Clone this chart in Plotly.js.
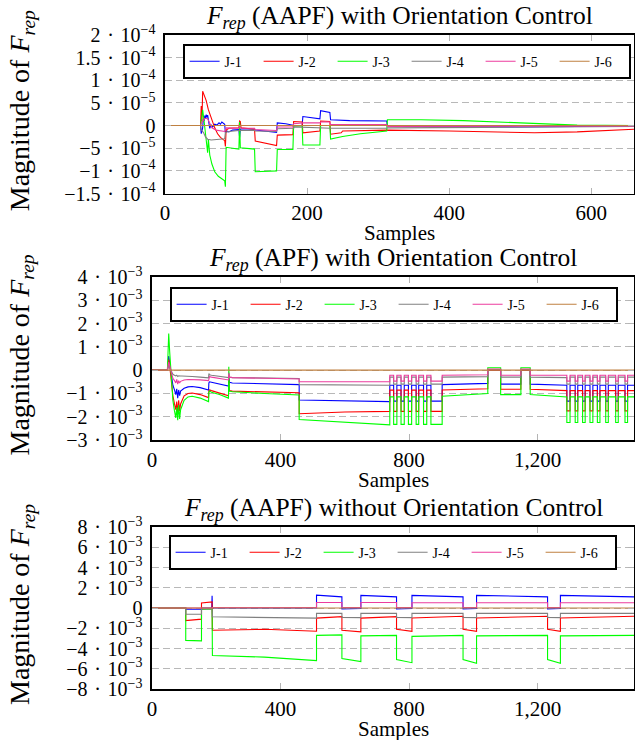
<!DOCTYPE html>
<html><head><meta charset="utf-8">
<script src="https://cdn.plot.ly/plotly-3.0.1.min.js"></script>
<style>html,body{margin:0;padding:0;background:#fff;}#chart{width:635px;height:740px;}</style>
</head><body><div id="chart"></div>
<script>
// ---------- Panel 1: F_rep (AAPF) with Orientation Control ----------
const p1_x_j1 = [0,50,51,53,54,55,56,57,58,59,60,62,63,65,67,70,73,76,78,80,82,84,85,87,90,95,104,105,106,110,126,127,157,158,170,181,182,193,194,218,219,232,233,260,312,313,400,500,660];
const p1_y_j1 = [0,0,-1.8e-5,-0.5e-5,1.5e-5,1.0e-5,2.2e-5,1.6e-5,2.4e-5,1.8e-5,2.3e-5,0.5e-5,-0.6e-5,0.2e-5,-0.3e-5,0.3e-5,0.1e-5,0.6e-5,0.3e-5,0.8e-5,0.5e-5,0.3e-5,-1.6e-5,-1.2e-5,-1.4e-5,-1.0e-5,-0.9e-5,-2.6e-5,-0.8e-5,-0.7e-5,-0.8e-5,-1.0e-5,-1.5e-5,0.6e-5,0.4e-5,0.1e-5,0,0,2.0e-5,1.5e-5,3.3e-5,2.9e-5,1.3e-5,1.1e-5,1.0e-5,-0.2e-5,-0.3e-5,-0.3e-5,-0.1e-5];
const p1_x_j2 = [0,50,51,52,53,55,58,61,64,67,70,74,78,82,84,85,86,90,104,105,106,107,126,127,157,158,180,181,193,194,218,219,232,233,248,250,312,313,400,450,520,580,660];
const p1_y_j2 = [0,0,4.3e-5,1.0e-5,7.6e-5,6.8e-5,5.5e-5,3.5e-5,2.0e-5,0.8e-5,-0.5e-5,-1.8e-5,-2.6e-5,-3.1e-5,-3.3e-5,-4.6e-5,-1.0e-5,-0.6e-5,-0.5e-5,1.0e-5,0.9e-5,-0.5e-5,-0.8e-5,-3.4e-5,-4.4e-5,-2.1e-5,-2.0e-5,0.9e-5,0.8e-5,-1.6e-5,-1.2e-5,1.0e-5,0.9e-5,-1.9e-5,-1.6e-5,-1.2e-5,-1.1e-5,-1.0e-5,-1.2e-5,-1.4e-5,-1.6e-5,-1.4e-5,-0.8e-5];
const p1_x_j3 = [0,50,51,53,55,57,59,60,61,63,66,70,75,80,84,85,86,95,104,105,106,126,127,157,158,180,181,193,194,218,219,232,233,250,275,312,313,360,420,500,580,660];
const p1_y_j3 = [0,0,1.0e-5,3.5e-5,1.0e-5,-1.5e-5,-3.5e-5,-6.0e-5,-3.0e-5,-6.5e-5,-8.5e-5,-10.2e-5,-11.2e-5,-11.8e-5,-12.2e-5,-13.5e-5,-4.8e-5,-5.0e-5,-5.2e-5,0.8e-5,-4.9e-5,-5.2e-5,-10.2e-5,-10.0e-5,-5.3e-5,-5.3e-5,-0.1e-5,-0.1e-5,-4.3e-5,-4.3e-5,0,0,-3.0e-5,-2.4e-5,-1.8e-5,-1.2e-5,1.3e-5,1.3e-5,1.1e-5,0.6e-5,0.1e-5,0];
const p1_x_j4 = [0,50,51,54,57,60,65,75,84,85,90,104,126,127,157,158,181,182,232,233,312,313,450,660];
const p1_y_j4 = [0,0,-1.0e-5,-1.5e-5,-2.5e-5,-3.0e-5,-3.2e-5,-3.1e-5,-2.9e-5,-1.5e-5,-1.3e-5,-1.1e-5,-1.0e-5,-1.2e-5,-1.3e-5,-0.7e-5,-0.6e-5,-0.3e-5,-0.5e-5,-0.6e-5,-0.6e-5,-0.5e-5,-0.4e-5,-0.2e-5];
const p1_x_j5 = [0,50,51,53,56,60,63,66,72,80,84,85,86,104,105,107,126,127,157,158,180,181,193,194,218,219,232,233,312,313,660];
const p1_y_j5 = [0,0,0.5e-5,1.0e-5,1.6e-5,1.5e-5,0.3e-5,-0.5e-5,-1.0e-5,-1.2e-5,-1.3e-5,-1.0e-5,-0.5e-5,-0.6e-5,-0.2e-5,-0.6e-5,-0.6e-5,-0.9e-5,-1.1e-5,-0.3e-5,-0.3e-5,0.4e-5,0.5e-5,0.6e-5,0.6e-5,0.8e-5,0.8e-5,0.2e-5,0.2e-5,-0.2e-5,-0.1e-5];
const p1_x_j6 = [0,660];
const p1_y_j6 = [0,0];

// ---------- Panel 2: F_rep (APF) with Orientation Control (shared samples) ----------
const p2_x = [
  0,48,50,52,55,58,61,65,70,74,77,80,83,86,89,93,100,112,125,150,176,177,179,185,210,238,239,241,250,350,458,
  458,600,740,
  740,752,752,762,762,775,775,785,785,798,798,808,808,822,822,830,830,845,845,855,855,868,868,903,
  903,1045,1045,1085,1085,1148,1148,1177,1177,1291,
  1291,1301,1301,1317,1317,1325,1325,1340,1340,1348,1348,1363,1363,1372,1372,1386,1386,1394,1394,1412,1412,1420,1420,1443,1443,1451,1451,1472,1472,1480,1480,1500
];
const p2_j1 = [
  0,0,0.3e-3,0.6e-3,0.3e-3,0,-0.35e-3,-0.65e-3,-0.85e-3,-1.05e-3,-0.8e-3,-1.2e-3,-0.85e-3,-1.1e-3,-0.9e-3,-0.85e-3,-0.78e-3,-0.72e-3,-0.7e-3,-0.75e-3,-0.85e-3,-0.55e-3,-0.5e-3,-0.52e-3,-0.6e-3,-0.68e-3,-0.3e-3,-0.52e-3,-0.55e-3,-0.58e-3,-0.62e-3,
  -1.28e-3,-1.32e-3,-1.35e-3,
  -0.65e-3,-0.65e-3,-1.33e-3,-1.33e-3,-0.65e-3,-0.65e-3,-1.33e-3,-1.33e-3,-0.65e-3,-0.65e-3,-1.33e-3,-1.33e-3,-0.65e-3,-0.65e-3,-1.33e-3,-1.33e-3,-0.65e-3,-0.65e-3,-1.33e-3,-1.33e-3,-0.65e-3,-0.65e-3,-1.33e-3,-1.33e-3,
  -0.62e-3,-0.57e-3,0,0,-0.6e-3,-0.6e-3,0,0,-0.6e-3,-0.65e-3,
  -1.33e-3,-1.33e-3,-0.65e-3,-0.65e-3,-1.33e-3,-1.33e-3,-0.65e-3,-0.65e-3,-1.33e-3,-1.33e-3,-0.65e-3,-0.65e-3,-1.33e-3,-1.33e-3,-0.65e-3,-0.65e-3,-1.33e-3,-1.33e-3,-0.65e-3,-0.65e-3,-1.33e-3,-1.33e-3,-0.65e-3,-0.65e-3,-1.33e-3,-1.33e-3,-0.65e-3,-0.65e-3,-1.33e-3,-1.33e-3,-0.65e-3,-0.65e-3
];
const p2_j2 = [
  0,0,0.3e-3,0.45e-3,0.2e-3,-0.2e-3,-0.7e-3,-1.1e-3,-1.45e-3,-1.7e-3,-1.35e-3,-1.85e-3,-1.3e-3,-1.75e-3,-1.45e-3,-1.3e-3,-1.1e-3,-1.0e-3,-0.98e-3,-1.05e-3,-1.18e-3,-0.88e-3,-0.85e-3,-0.88e-3,-0.98e-3,-1.1e-3,-0.4e-3,-0.88e-3,-0.9e-3,-0.93e-3,-0.97e-3,
  -1.87e-3,-1.8e-3,-1.77e-3,
  -0.86e-3,-0.86e-3,-1.77e-3,-1.77e-3,-0.86e-3,-0.86e-3,-1.77e-3,-1.77e-3,-0.86e-3,-0.86e-3,-1.77e-3,-1.77e-3,-0.86e-3,-0.86e-3,-1.77e-3,-1.77e-3,-0.86e-3,-0.86e-3,-1.77e-3,-1.77e-3,-0.86e-3,-0.86e-3,-1.77e-3,-1.77e-3,
  -0.85e-3,-0.8e-3,0,0,-0.82e-3,-0.82e-3,0,0,-0.82e-3,-0.88e-3,
  -1.75e-3,-1.75e-3,-0.88e-3,-0.88e-3,-1.75e-3,-1.75e-3,-0.88e-3,-0.88e-3,-1.75e-3,-1.75e-3,-0.88e-3,-0.88e-3,-1.75e-3,-1.75e-3,-0.88e-3,-0.88e-3,-1.75e-3,-1.75e-3,-0.88e-3,-0.88e-3,-1.75e-3,-1.75e-3,-0.88e-3,-0.88e-3,-1.75e-3,-1.75e-3,-0.88e-3,-0.88e-3,-1.75e-3,-1.75e-3,-0.88e-3,-0.88e-3
];
const p2_j3 = [
  0,0,0.8e-3,1.57e-3,0.8e-3,0.1e-3,-0.6e-3,-1.3e-3,-1.75e-3,-2.05e-3,-1.6e-3,-2.15e-3,-1.5e-3,-2.1e-3,-1.7e-3,-1.55e-3,-1.3e-3,-1.15e-3,-1.12e-3,-1.2e-3,-1.35e-3,-0.95e-3,-0.9e-3,-0.95e-3,-1.05e-3,-1.2e-3,0.15e-3,-0.9e-3,-0.93e-3,-1.0e-3,-1.07e-3,
  -2.12e-3,-2.25e-3,-2.35e-3,
  -1.15e-3,-1.15e-3,-2.33e-3,-2.33e-3,-1.15e-3,-1.15e-3,-2.33e-3,-2.33e-3,-1.15e-3,-1.15e-3,-2.33e-3,-2.33e-3,-1.15e-3,-1.15e-3,-2.33e-3,-2.33e-3,-1.15e-3,-1.15e-3,-2.33e-3,-2.33e-3,-1.15e-3,-1.15e-3,-2.33e-3,-2.33e-3,
  -1.12e-3,-1.0e-3,0.1e-3,0.1e-3,-1.05e-3,-1.05e-3,0.1e-3,0.1e-3,-1.05e-3,-1.15e-3,
  -2.25e-3,-2.25e-3,-1.15e-3,-1.15e-3,-2.25e-3,-2.25e-3,-1.15e-3,-1.15e-3,-2.25e-3,-2.25e-3,-1.15e-3,-1.15e-3,-2.25e-3,-2.25e-3,-1.15e-3,-1.15e-3,-2.25e-3,-2.25e-3,-1.15e-3,-1.15e-3,-2.25e-3,-2.25e-3,-1.15e-3,-1.15e-3,-2.25e-3,-2.25e-3,-1.15e-3,-1.15e-3,-2.25e-3,-2.25e-3,-1.15e-3,-1.15e-3
];
const p2_j4 = [
  0,0,0.1e-3,0.2e-3,0.1e-3,0,-0.1e-3,-0.18e-3,-0.22e-3,-0.25e-3,-0.22e-3,-0.27e-3,-0.24e-3,-0.26e-3,-0.25e-3,-0.25e-3,-0.25e-3,-0.26e-3,-0.27e-3,-0.3e-3,-0.33e-3,-0.15e-3,-0.2e-3,-0.22e-3,-0.27e-3,-0.32e-3,-0.1e-3,-0.3e-3,-0.32e-3,-0.34e-3,-0.36e-3,
  -0.62e-3,-0.63e-3,-0.65e-3,
  -0.3e-3,-0.3e-3,-0.6e-3,-0.6e-3,-0.3e-3,-0.3e-3,-0.6e-3,-0.6e-3,-0.3e-3,-0.3e-3,-0.6e-3,-0.6e-3,-0.3e-3,-0.3e-3,-0.6e-3,-0.6e-3,-0.3e-3,-0.3e-3,-0.6e-3,-0.6e-3,-0.3e-3,-0.3e-3,-0.6e-3,-0.6e-3,
  -0.3e-3,-0.28e-3,0.02e-3,0.02e-3,-0.3e-3,-0.3e-3,0.02e-3,0.02e-3,-0.3e-3,-0.32e-3,
  -0.6e-3,-0.6e-3,-0.3e-3,-0.3e-3,-0.6e-3,-0.6e-3,-0.3e-3,-0.3e-3,-0.6e-3,-0.6e-3,-0.3e-3,-0.3e-3,-0.6e-3,-0.6e-3,-0.3e-3,-0.3e-3,-0.6e-3,-0.6e-3,-0.3e-3,-0.3e-3,-0.6e-3,-0.6e-3,-0.3e-3,-0.3e-3,-0.6e-3,-0.6e-3,-0.3e-3,-0.3e-3,-0.6e-3,-0.6e-3,-0.3e-3,-0.3e-3
];
const p2_j5 = [
  0,0,0.2e-3,0.35e-3,0.2e-3,0,-0.2e-3,-0.35e-3,-0.45e-3,-0.55e-3,-0.4e-3,-0.6e-3,-0.45e-3,-0.55e-3,-0.48e-3,-0.45e-3,-0.42e-3,-0.4e-3,-0.4e-3,-0.42e-3,-0.45e-3,-0.3e-3,-0.28e-3,-0.3e-3,-0.35e-3,-0.42e-3,-0.15e-3,-0.3e-3,-0.32e-3,-0.35e-3,-0.38e-3,
  -0.5e-3,-0.5e-3,-0.5e-3,
  -0.22e-3,-0.22e-3,-0.47e-3,-0.47e-3,-0.22e-3,-0.22e-3,-0.47e-3,-0.47e-3,-0.22e-3,-0.22e-3,-0.47e-3,-0.47e-3,-0.22e-3,-0.22e-3,-0.47e-3,-0.47e-3,-0.22e-3,-0.22e-3,-0.47e-3,-0.47e-3,-0.22e-3,-0.22e-3,-0.47e-3,-0.47e-3,
  -0.22e-3,-0.2e-3,0.05e-3,0.05e-3,-0.22e-3,-0.22e-3,0.05e-3,0.05e-3,-0.22e-3,-0.22e-3,
  -0.47e-3,-0.47e-3,-0.22e-3,-0.22e-3,-0.47e-3,-0.47e-3,-0.22e-3,-0.22e-3,-0.47e-3,-0.47e-3,-0.22e-3,-0.22e-3,-0.47e-3,-0.47e-3,-0.22e-3,-0.22e-3,-0.47e-3,-0.47e-3,-0.22e-3,-0.22e-3,-0.47e-3,-0.47e-3,-0.22e-3,-0.22e-3,-0.47e-3,-0.47e-3,-0.22e-3,-0.22e-3,-0.47e-3,-0.47e-3,-0.22e-3,-0.22e-3
];
const p2_x_j6 = [0,1500];
const p2_j6 = [0,0];

// ---------- Panel 3: F_rep (AAPF) without Orientation Control (shared samples) ----------
const p3_x = [0,105,105,154,154,186,187,188,350,512,512,591,591,650,650,761,761,809,809,968,968,1010,1010,1231,1231,1271,1271,1500];
const p3_j1 = [0,0,-0.12e-3,-0.12e-3,0,0,1.2e-3,0,0,0,1.27e-3,1.1e-3,-0.1e-3,-0.05e-3,1.25e-3,1.1e-3,-0.1e-3,-0.05e-3,1.25e-3,1.1e-3,-0.1e-3,-0.05e-3,1.25e-3,1.1e-3,-0.1e-3,-0.05e-3,1.25e-3,1.1e-3];
const p3_j2 = [0,0,-1.25e-3,-1.1e-3,0.5e-3,0.6e-3,0.6e-3,-2.2e-3,-2.1e-3,-2.3e-3,-1.0e-3,-0.85e-3,-2.2e-3,-2.35e-3,-1.0e-3,-0.85e-3,-2.1e-3,-2.3e-3,-0.99e-3,-0.82e-3,-2.1e-3,-2.3e-3,-0.99e-3,-0.82e-3,-2.1e-3,-2.3e-3,-0.99e-3,-0.82e-3];
const p3_j3 = [0,0,-3.2e-3,-3.25e-3,-0.15e-3,-0.12e-3,-0.1e-3,-4.7e-3,-4.85e-3,-5.2e-3,-2.7e-3,-2.65e-3,-5.0e-3,-5.3e-3,-2.75e-3,-2.7e-3,-5.1e-3,-5.4e-3,-2.8e-3,-2.7e-3,-5.1e-3,-5.45e-3,-2.75e-3,-2.7e-3,-5.1e-3,-5.45e-3,-2.75e-3,-2.7e-3];
const p3_j4 = [0,0,-0.62e-3,-0.62e-3,-0.1e-3,-0.1e-3,-0.1e-3,-0.87e-3,-0.9e-3,-1.0e-3,-0.53e-3,-0.53e-3,-0.93e-3,-0.95e-3,-0.53e-3,-0.53e-3,-0.93e-3,-0.95e-3,-0.53e-3,-0.53e-3,-0.93e-3,-0.95e-3,-0.53e-3,-0.53e-3,-0.93e-3,-0.95e-3,-0.53e-3,-0.53e-3];
const p3_j5 = [0,0,-0.05e-3,-0.05e-3,0,0,0,0.05e-3,0.05e-3,0.05e-3,0.55e-3,0.55e-3,0.05e-3,0.05e-3,0.55e-3,0.55e-3,0.05e-3,0.05e-3,0.52e-3,0.52e-3,0.05e-3,0.05e-3,0.52e-3,0.52e-3,0.05e-3,0.05e-3,0.52e-3,0.52e-3];
const p3_x_j6 = [0,1500];
const p3_j6 = [0,0];

// ---------- labels ----------
const seriesNames = ['J-1','J-2','J-3','J-4','J-5','J-6'];
const seriesColors = ['#0000FF','#FF0000','#00FF00','#808080','#EC3C9E','#BF8040'];
const panelTitles = [
  '<i>F</i><sub><i>rep</i></sub> (AAPF) with Orientation Control',
  '<i>F</i><sub><i>rep</i></sub> (APF) with Orientation Control',
  '<i>F</i><sub><i>rep</i></sub> (AAPF) without Orientation Control'
];
const xLabel = 'Samples';
const yLabel = 'Magnitude of <i>F</i><sub><i>rep</i></sub>';
const p1_xticks = [0,200,400,600];
const p1_xtext = ['0','200','400','600'];
const p23_xticks = [0,400,800,1200];
const p23_xtext = ['0','400','800','1,200'];
const p1_yticks = [-1.5e-4,-1e-4,-5e-5,0,5e-5,1e-4,1.5e-4,2e-4];
const p1_ytext = ['−1.5 · 10<sup>−4</sup>','−1 · 10<sup>−4</sup>','−5 · 10<sup>−5</sup>','0','5 · 10<sup>−5</sup>','1 · 10<sup>−4</sup>','1.5 · 10<sup>−4</sup>','2 · 10<sup>−4</sup>'];
const p2_yticks = [-3e-3,-2e-3,-1e-3,0,1e-3,2e-3,3e-3,4e-3];
const p2_ytext = ['−3 · 10<sup>−3</sup>','−2 · 10<sup>−3</sup>','−1 · 10<sup>−3</sup>','0','1 · 10<sup>−3</sup>','2 · 10<sup>−3</sup>','3 · 10<sup>−3</sup>','4 · 10<sup>−3</sup>'];
const p3_yticks = [-8e-3,-6e-3,-4e-3,-2e-3,0,2e-3,4e-3,6e-3,8e-3];
const p3_ytext = ['−8 · 10<sup>−3</sup>','−6 · 10<sup>−3</sup>','−4 · 10<sup>−3</sup>','−2 · 10<sup>−3</sup>','0','2 · 10<sup>−3</sup>','4 · 10<sup>−3</sup>','6 · 10<sup>−3</sup>','8 · 10<sup>−3</sup>'];

// ---------- build ----------
const FONT = 'Liberation Serif, DejaVu Serif, serif';
const W = 635, H = 740;
const px = v => v / W, py = v => 1 - v / H;

const panels = [
  {xs:[p1_x_j1,p1_x_j2,p1_x_j3,p1_x_j4,p1_x_j5,p1_x_j6], ys:[p1_y_j1,p1_y_j2,p1_y_j3,p1_y_j4,p1_y_j5,p1_y_j6]},
  {xs:[p2_x,p2_x,p2_x,p2_x,p2_x,p2_x_j6], ys:[p2_j1,p2_j2,p2_j3,p2_j4,p2_j5,p2_j6]},
  {xs:[p3_x,p3_x,p3_x,p3_x,p3_x,p3_x_j6], ys:[p3_j1,p3_j2,p3_j3,p3_j4,p3_j5,p3_j6]}
];
const legNames = ['legend','legend2','legend3'];
const axSuffix = ['','2','3'];
const traces = [];
panels.forEach((p, pi) => {
  for (let s = 0; s < 6; s++) {
    traces.push({
      type:'scatter', mode:'lines', x:p.xs[s], y:p.ys[s], name:seriesNames[s],
      line:{color:seriesColors[s], width:1.1}, xaxis:'x'+axSuffix[pi], yaxis:'y'+axSuffix[pi],
      legend:legNames[pi], hoverinfo:'skip'
    });
  }
});

const boxes = [[165,634,35,193.5],[152,634,277,440],[152,634,527,689]];
const xr = [[0,660],[0,1500],[0,1500]];
const yr = [[-1.5e-4,2e-4],[-3e-3,4e-3],[-8e-3,8e-3]];
const xt = [[p1_xticks,p1_xtext],[p23_xticks,p23_xtext],[p23_xticks,p23_xtext]];
const yt = [[p1_yticks,p1_ytext],[p2_yticks,p2_ytext],[p3_yticks,p3_ytext]];
const wideDot = s => s.replace(' · ', '\u2004·\u2004');

const layout = {
  width:W, height:H, margin:{l:0,r:0,t:0,b:0,autoexpand:false}, paper_bgcolor:'#fff', plot_bgcolor:'#fff',
  font:{family:FONT, color:'#000'}, showlegend:true, annotations:[]
};
const legTop = [[183,44],[170,287],[169,535]];
boxes.forEach((b, i) => {
  const sx = axSuffix[i];
  layout['xaxis'+sx] = {
    domain:[px(b[0]), px(b[1])], range:xr[i], anchor:'y'+sx,
    tickvals:xt[i][0], ticktext:xt[i][1], ticks:'inside', ticklen:6, tickwidth:1, tickcolor:'#b4b4b4',
    showgrid:false, zeroline:false, showline:true, linecolor:'#000', linewidth:1.6, mirror:'ticks',
    tickfont:{family:FONT, size:21, color:'#000'}, fixedrange:true
  };
  layout['yaxis'+sx] = {
    domain:[py(b[3]), py(b[2])], range:yr[i], anchor:'x'+sx,
    tickvals:yt[i][0], ticktext:yt[i][1].map(wideDot), ticks:'inside', ticklen:6, tickwidth:1, tickcolor:'#b4b4b4',
    ticklabelstandoff:4,
    showgrid:true, gridcolor:'#b8b8b8', gridwidth:1, griddash:'7px,4px',
    zeroline:false, showline:true, linecolor:'#000', linewidth:1.6, mirror:'ticks',
    tickfont:{family:FONT, size:20, color:'#000'}, fixedrange:true
  };
  layout[legNames[i]] = {
    x:px(legTop[i][0]), y:py(legTop[i][1]), xref:'container', yref:'container', xanchor:'left', yanchor:'top',
    orientation:'h', bgcolor:'#fff', bordercolor:'#000', borderwidth:1.6,
    font:{family:FONT, size:14, color:'#000'}, entrywidth:29, entrywidthmode:'pixels'
  };
  const cx = (b[0] + b[1]) / 2;
  layout.annotations.push({text:panelTitles[i], x:px(cx), y:py(b[2] - 18), xref:'paper', yref:'paper',
    xanchor:'center', yanchor:'middle', showarrow:false, font:{family:FONT, size:25.5, color:'#000'}});
  layout.annotations.push({text:xLabel, x:px(cx), y:py(b[3] + 40), xref:'paper', yref:'paper',
    xanchor:'center', yanchor:'middle', showarrow:false, font:{family:FONT, size:21, color:'#000'}});
  layout.annotations.push({text:yLabel, x:px(21), y:py((b[2] + b[3]) / 2 - 3), xref:'paper', yref:'paper',
    xanchor:'center', yanchor:'middle', textangle:-90, showarrow:false, font:{family:FONT, size:28, color:'#000'}});
});

Plotly.newPlot('chart', traces, layout, {displayModeBar:false, staticPlot:true});
</script></body></html>
